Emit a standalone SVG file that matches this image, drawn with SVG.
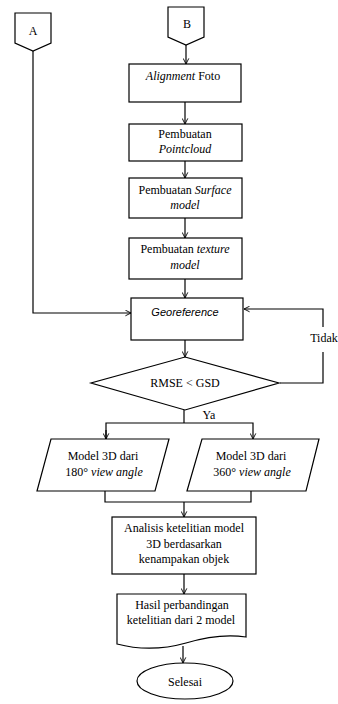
<svg xmlns="http://www.w3.org/2000/svg" width="338" height="704" viewBox="0 0 338 704">
<style>
.s{fill:#fff;stroke:#000;stroke-width:1.2}
.c{fill:none;stroke:#000;stroke-width:1.2}
text{font-family:"Liberation Serif","Times New Roman",serif;font-size:12px;fill:#000;text-anchor:middle}
.i{font-style:italic}
.g{font-family:"Liberation Sans",Arial,sans-serif;font-style:italic;font-size:11px}
</style>
<defs>
<marker id="ah" viewBox="0 0 10 10" refX="9" refY="5" markerWidth="7" markerHeight="7" orient="auto" markerUnits="userSpaceOnUse">
<path d="M1,1 L9,5 L1,9" fill="none" stroke="#000" stroke-width="1.3"/>
</marker>
</defs>
<rect width="338" height="704" fill="#fff"/>
<g id="connectors">
<line class="c" x1="186" y1="45" x2="186" y2="64" marker-end="url(#ah)"/>
<line class="c" x1="185" y1="102" x2="185" y2="124" marker-end="url(#ah)"/>
<line class="c" x1="185" y1="161" x2="185" y2="178" marker-end="url(#ah)"/>
<line class="c" x1="185" y1="218" x2="185" y2="238" marker-end="url(#ah)"/>
<line class="c" x1="185" y1="279" x2="185" y2="298" marker-end="url(#ah)"/>
<polyline class="c" points="33,51 33,313 131,313" marker-end="url(#ah)"/>
<line class="c" x1="185" y1="340" x2="185" y2="357" marker-end="url(#ah)"/>
<polyline class="c" points="280,383 323,383 323,352"/>
<polyline class="c" points="323,327 323,309 244,309" marker-end="url(#ah)"/>
<line class="c" x1="184" y1="410" x2="184" y2="423"/>
<polyline class="c" points="106,439 106,423 253,423 253,439" marker-end="url(#ah)"/>
<line class="c" x1="106" y1="430" x2="106" y2="439" marker-end="url(#ah)"/>
<polyline class="c" points="105,491 105,502 251,502 251,491"/>
<line class="c" x1="184" y1="502" x2="184" y2="517" marker-end="url(#ah)"/>
<line class="c" x1="184" y1="574" x2="184" y2="594" marker-end="url(#ah)"/>
<line class="c" x1="183" y1="646" x2="183" y2="663" marker-end="url(#ah)"/>
<text x="324" y="342">Tidak</text>
<text x="209" y="419">Ya</text>
</g>
<g id="nodeA">
<polygon class="s" points="15,13 51,13 51,43 33,51 15,43"/>
<text x="33" y="35">A</text>
</g>
<g id="nodeB">
<polygon class="s" points="168,7 204,7 204,37 186,45 168,37"/>
<text x="187" y="28">B</text>
</g>
<g id="alignment">
<rect class="s" x="129" y="64" width="112" height="38"/>
<text x="183" y="80"><tspan class="i">Alignment</tspan> Foto</text>
</g>
<g id="pointcloud">
<rect class="s" x="129" y="124" width="113" height="37"/>
<text x="185" y="138">Pembuatan</text>
<text x="185" y="153" class="i">Pointcloud</text>
</g>
<g id="surface">
<rect class="s" x="129" y="178" width="113" height="40"/>
<text x="185" y="194">Pembuatan <tspan class="i">Surface</tspan></text>
<text x="185" y="209" class="i">model</text>
</g>
<g id="texture">
<rect class="s" x="129" y="238" width="113" height="41"/>
<text x="185" y="253">Pembuatan <tspan class="i">texture</tspan></text>
<text x="185" y="269" class="i">model</text>
</g>
<g id="georeference">
<rect class="s" x="131" y="298" width="112" height="42"/>
<text x="185" y="316" class="g">Georeference</text>
</g>
<g id="decision">
<polygon class="s" points="185,357 279,383 185,410 91,383"/>
<text x="185" y="387">RMSE &lt; GSD</text>
</g>
<g id="model180">
<polygon class="s" points="51,439 169,439 155,491 37,491"/>
<text x="103" y="460">Model 3D dari</text>
<text x="104" y="476">180° <tspan class="i">view angle</tspan></text>
</g>
<g id="model360">
<polygon class="s" points="202,439 319,439 306,491 187,491"/>
<text x="251" y="460">Model 3D dari</text>
<text x="252" y="476">360° <tspan class="i">view angle</tspan></text>
</g>
<g id="analisis">
<rect class="s" x="112" y="517" width="144" height="57"/>
<text x="184" y="532">Analisis ketelitian model</text>
<text x="184" y="548">3D berdasarkan</text>
<text x="184" y="563">kenampakan objek</text>
</g>
<g id="hasil">
<path class="s" d="M117,594 H246 V637 C226,634 206,637 186,643 C161,650 136,649 117,644 Z"/>
<text x="182" y="609">Hasil perbandingan</text>
<text x="181" y="624">ketelitian dari 2 model</text>
</g>
<g id="selesai">
<ellipse class="s" cx="185" cy="681" rx="48" ry="18"/>
<text x="185" y="686">Selesai</text>
</g>
</svg>
